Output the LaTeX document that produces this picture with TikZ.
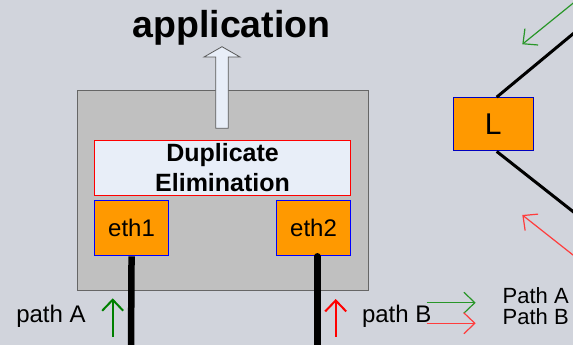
\documentclass[tikz,border=0pt]{standalone}
\usepackage{fontspec}
\setmainfont{Liberation Sans}
\usetikzlibrary{arrows.meta, positioning}
\definecolor{fons}{RGB}{209,212,220}
\definecolor{gris-host}{RGB}{192,192,192}
\definecolor{blanc-blau}{RGB}{232,238,248}
\definecolor{taronja}{RGB}{255,153,0}
\definecolor{verd-A}{RGB}{0,128,0}
\definecolor{verd-llegenda}{RGB}{40,150,40}
\definecolor{vermell-llegenda}{RGB}{255,60,60}
\tikzset{
  caixa-eth/.style={draw=blue, fill=taronja, line width=1pt, minimum width=73.5pt, minimum height=55pt, inner sep=0pt, font=\fontsize{24}{28}\selectfont},
  fletxa/.style={-{Straight Barb[length=11pt, width=21pt]}, line width=1.2pt},
  cable/.style={line width=6.5pt},
  enllac/.style={line width=3pt},
  etiqueta/.style={inner sep=0pt, anchor=base, font=\fontsize{24}{28}\selectfont}
}

\begin{document}
\begin{tikzpicture}[x=1pt, y=-1pt]
      \fill[fons] (0,0) rectangle (573,345);
      \useasboundingbox (0,0) rectangle (573,345);
      \clip (0,0) rectangle (573,345);

      % equip amb eliminacio de duplicats
      \node[draw=black!60, fill=gris-host, line width=1pt, minimum width=291pt, minimum height=200pt, anchor=north west] (host) at (77,90) {};
      \node[draw=red, fill=blanc-blau, line width=1pt, minimum width=255.5pt, minimum height=54.7pt, inner sep=0pt, anchor=north west, align=center, font=\bfseries\fontsize{25}{30}\selectfont] (dup-elim) at (94.3,140) {Duplicate\\Elimination};
      \node[caixa-eth, below=4.6pt of dup-elim.south west, anchor=north west] (eth1) {eth1};
      \node[caixa-eth, below=4.6pt of dup-elim.south east, anchor=north east] (eth2) {eth2};

      \node[inner sep=0pt, anchor=base, font=\bfseries\fontsize{37.5}{40}\selectfont] (app) at (231.5,37.3) {application};
      \coordinate (fletxa-app) at (222,128.3);
      \draw[draw=black!65, fill=blanc-blau, line width=0.8pt] (215.7,128.3) -- (215.7,57) -- (204,57) -- (222,46.7) -- (240,57) -- (228.3,57) -- (228.3,128.3) -- cycle;

      % cables cap a les xarxes
      \coordinate (base-A) at (131,350);
      \coordinate (base-B) at (317.3,350);
      \draw[cable] (eth1.south) -- (base-A);
      \draw[cable, line cap=round] (eth2.south -| base-B) -- (base-B);

      \node[etiqueta] (path-a) at (51,322.7) {path A};
      \node[etiqueta] (path-b) at (396.7,322.7) {path B};
      \coordinate (peu-A) at (112.7,336.7);
      \coordinate (cap-A) at (112.7,298.3);
      \coordinate (peu-B) at (335.7,336.7);
      \coordinate (cap-B) at (335.7,299);
      \draw[fletxa, verd-A, line width=2pt] (peu-A) -- (cap-A);
      \draw[fletxa, red, line width=2pt] (peu-B) -- (cap-B);

      % node L i enllacos
      \node[draw=blue!75!black, fill=taronja, line width=1pt, minimum width=80pt, minimum height=53.3pt, inner sep=0pt, font=\fontsize{30}{34}\selectfont] (node-l) at (493.3,124.3) {L};
      \coordinate (lan-dalt) at (585,23.9);
      \coordinate (lan-baix) at (585,221);
      \draw[enllac] ([xshift=3.4pt]node-l.north) -- (lan-dalt);
      \draw[enllac] ([xshift=3.4pt]node-l.south) -- (lan-baix);
      \coordinate (inici-verd) at (580,-2.4);
      \coordinate (punta-verd) at (522.3,44.3);
      \coordinate (inici-vermell) at (580,260.5);
      \coordinate (punta-vermell) at (522.3,215);
      \draw[fletxa, verd-llegenda] (inici-verd) -- (punta-verd);
      \draw[fletxa, vermell-llegenda] (inici-vermell) -- (punta-vermell);

      % llegenda
      \node[inner sep=0pt, anchor=base west, align=left, font=\fontsize{22}{21}\selectfont] (llegenda) at (502.5,324.3) {Path A\\Path B};
      \coordinate (lleg-A) at (426.7,302.7);
      \coordinate (lleg-B) at (426.7,323.3);
      \draw[fletxa, verd-llegenda] (lleg-A) -- ++(49,0);
      \draw[fletxa, vermell-llegenda] (lleg-B) -- ++(49,0);
\end{tikzpicture}
\end{document}
